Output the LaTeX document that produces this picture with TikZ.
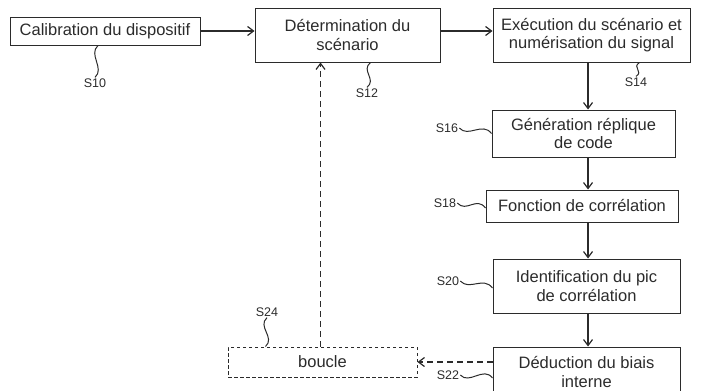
\documentclass[tikz,border=0pt]{standalone}
\usepackage{fontspec}
\setmainfont{Liberation Sans}
\usetikzlibrary{arrows.meta}
\definecolor{ink}{HTML}{2B2B2B}
\tikzset{
    box/.style={draw=ink, line width=1pt, text=ink, align=center, inner sep=2pt,
        font=\fontsize{16.5}{18.5}\selectfont},
    dashbox/.style={box, dash pattern=on 3.5pt off 2.5pt},
    steplabel/.style={text=ink, inner sep=1pt, font=\fontsize{12.5}{14}\selectfont},
    wave/.style={draw=ink, line width=1pt},
    flow/.style={draw=ink, line width=1.2pt, -{Straight Barb[length=6pt, width=9pt]}},
    backflow/.style={flow, dash pattern=on 6pt off 4pt},
}
\begin{document}
\begin{tikzpicture}[x=1pt, y=-1pt]
    \useasboundingbox (0,0) rectangle (705,391);
    % etapes
    \node[box, minimum width=190pt, minimum height=28pt] (calib) at (105,31) {Calibration du dispositif};
    \node[box, minimum width=185pt, minimum height=54pt] (scen) at (347.5,35) {Détermination du\\scénario};
    \node[box, minimum width=197pt, minimum height=54pt] (exec) at (591.5,35) {Exécution du scénario et\\numérisation du signal};
    \node[box, minimum width=183pt, minimum height=47pt] (gen) at (583.5,133.5) {Génération réplique\\de code};
    \node[box, minimum width=192pt, minimum height=32pt] (fonc) at (582,206) {Fonction de corrélation};
    \node[box, minimum width=187pt, minimum height=54pt] (ident) at (586.5,286) {Identification du pic\\de corrélation};
    \node[box, minimum width=187pt, minimum height=50pt] (deduc) at (586.5,372) {Déduction du biais\\interne};
    \node[dashbox, minimum width=189pt, minimum height=30pt] (boucle) at (322.5,362) {boucle};
    % references
    \node[steplabel] (s10) at (95,83) {S10};
    \node[steplabel] (s12) at (367,93) {S12};
    \node[steplabel] (s14) at (636,82) {S14};
    \node[steplabel] (s16) at (447,128) {S16};
    \node[steplabel] (s18) at (445,203) {S18};
    \node[steplabel] (s20) at (448,281) {S20};
    \node[steplabel] (s22) at (448,375) {S22};
    \node[steplabel] (s24) at (267,312) {S24};
    \coordinate (col) at (588,0);
    % fleches
    \draw[flow] (calib.east) -- (calib.east -| scen.west);
    \draw[flow] (scen.east |- calib.east) -- (exec.west |- calib.east);
    \draw[flow] (exec.south -| col) -- (gen.north -| col);
    \draw[flow] (gen.south -| col) -- (fonc.north -| col);
    \draw[flow] (fonc.south -| col) -- (ident.north -| col);
    \draw[flow] (ident.south -| col) -- (deduc.north -| col);
    \draw[backflow] (deduc.west |- boucle.east) -- (boucle.east);
    \draw[backflow] ([xshift=-2pt]boucle.north) -- ([xshift=-2pt]boucle.north |- scen.south);
    % vaguelettes
    \draw[wave] ([xshift=-7pt]calib.south) .. controls +(-10,9) and +(10,-9) .. (s10.north);
    \draw[wave] ([xshift=23pt]scen.south) .. controls +(-10,8) and +(10,-8) .. (s12.north);
    \draw[wave] ([xshift=48pt]exec.south) .. controls +(-8,5) and +(8,-5) .. (s14.north);
    \draw[wave] (s16.east) .. controls +(9,10) and +(-9,-12) .. (gen.west);
    \draw[wave] (s18.east) .. controls +(9,10) and +(-9,-12) .. ([yshift=-2pt]fonc.west);
    \draw[wave] (s20.east) .. controls +(9,10) and +(-9,-12) .. ([yshift=-2pt]ident.west);
    \draw[wave] (s22.east) .. controls +(9,10) and +(-9,-12) .. ([yshift=-6pt]deduc.west);
    \draw[wave] (s24.south) .. controls +(-10,9) and +(10,-9) .. ([xshift=-57pt]boucle.north);
\end{tikzpicture}
\end{document}
